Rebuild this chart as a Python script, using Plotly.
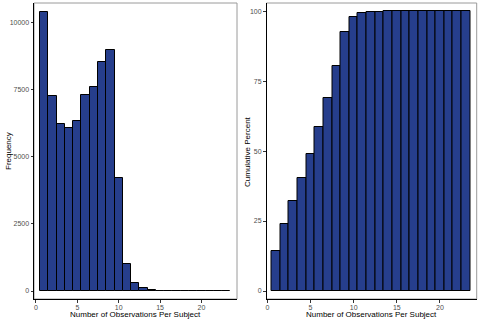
import plotly.graph_objects as go

# values
obs = list(range(1, 24))
freq = [10410, 7250, 6230, 6080, 6330, 7290, 7620, 8530, 8970, 4220, 1020, 300,
        100, 40, 15, 6, 3, 2, 1, 1, 1, 1, 1]
cum_pct = [14.2, 23.9, 32.1, 40.2, 48.8, 58.6, 68.8, 80.4, 92.4, 98.0, 99.2, 99.6,
           99.8, 99.9, 100, 100, 100, 100, 100, 100, 100, 100, 100]

x_ticks = [0, 5, 10, 15, 20]
freq_ticks = [0, 2500, 5000, 7500, 10000]
pct_ticks = [0, 25, 50, 75, 100]

W, H = 480, 320
FILL = "#263E8C"
FONT = "Liberation Sans, Arial, sans-serif"

# panel boxes in pixels: (left, right, top, bottom)
LEFT_BOX = (34, 237, 3, 299)
RIGHT_BOX = (266.5, 476.7, 3, 299)


def px_domain(box):
    l, r, t, b = box
    return [l / W, r / W], [1 - b / H, 1 - t / H]


fig = go.Figure()
fig.add_trace(go.Bar(x=obs, y=freq, width=1, xaxis="x", yaxis="y",
                     marker=dict(color=FILL, line=dict(color="black", width=1))))
fig.add_trace(go.Bar(x=obs, y=cum_pct, width=1, xaxis="x2", yaxis="y2",
                     marker=dict(color=FILL, line=dict(color="black", width=1))))

axis_style = dict(
    showgrid=False, zeroline=False, showline=True, linecolor="black", linewidth=1,
    ticks="outside", ticklen=2.5, tickcolor="#333333", tickwidth=1, tickformat="d",
    tickfont=dict(size=7, color="#4d4d4d", family=FONT),
)
x_style = dict(axis_style, ticklabelstandoff=-1)

lx, ly = px_domain(LEFT_BOX)
rx, ry = px_domain(RIGHT_BOX)

fig.update_layout(
    width=W, height=H,
    margin=dict(l=0, r=0, t=0, b=0),
    paper_bgcolor="white", plot_bgcolor="white",
    showlegend=False, bargap=0,
    font=dict(family=FONT),
    xaxis=dict(domain=lx, range=[-0.24, 24.3], tickvals=x_ticks, anchor="y", **x_style),
    yaxis=dict(domain=ly, range=[-298, 10734], tickvals=freq_ticks, anchor="x", **axis_style),
    xaxis2=dict(domain=rx, range=[-0.1, 24.26], tickvals=x_ticks, anchor="y2", **x_style),
    yaxis2=dict(domain=ry, range=[-2.86, 102.9], tickvals=pct_ticks, anchor="x2", **axis_style),
)

# light grey frame around each panel (axis lines sit on top of it)
for box in (LEFT_BOX, RIGHT_BOX):
    l, r, t, b = box
    fig.add_shape(type="rect", xref="paper", yref="paper",
                  x0=l / W, x1=r / W, y0=1 - b / H, y1=1 - t / H,
                  line=dict(color="#9a9a9a", width=1), layer="below")

title_font = dict(size=8, color="black", family=FONT)
for box in (LEFT_BOX, RIGHT_BOX):
    fig.add_annotation(text="Number of Observations Per Subject", xref="paper", yref="paper",
                       x=(box[0] + box[1]) / 2 / W, y=1 - 307.5 / H,
                       xanchor="center", yanchor="top",
                       showarrow=False, font=title_font)
fig.add_annotation(text="Frequency", xref="paper", yref="paper",
                   x=8 / W, y=1 - 151 / H, textangle=-90,
                   xanchor="center", yanchor="middle",
                   showarrow=False, font=title_font)
fig.add_annotation(text="Cumulative Percent", xref="paper", yref="paper",
                   x=247 / W, y=1 - 151 / H, textangle=-90,
                   xanchor="center", yanchor="middle",
                   showarrow=False, font=title_font)

# page body has a default 8px margin; drop it so the figure fills the window
fig.write_html("out.html", config={"displayModeBar": False},
               post_script="document.body.style.margin='0';")
